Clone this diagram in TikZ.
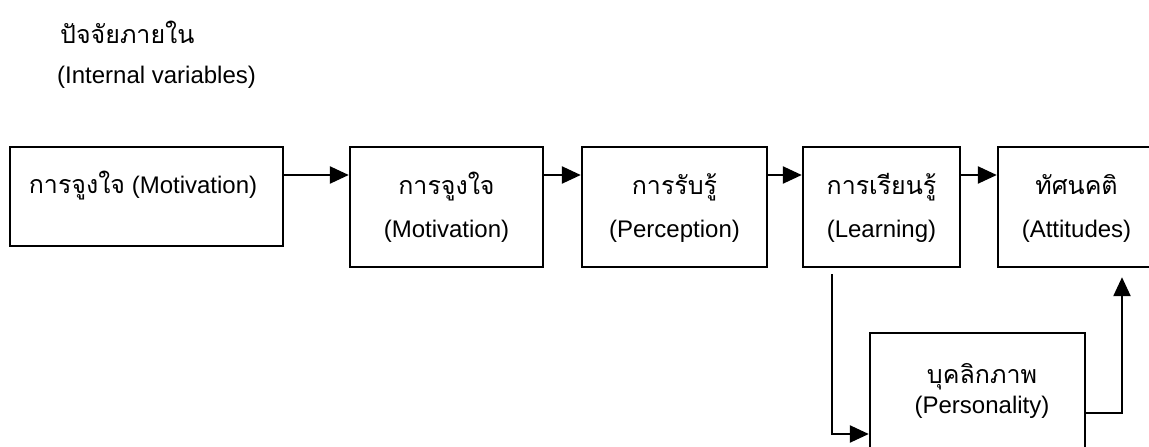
\documentclass[tikz,border=0pt]{standalone}
\usepackage{fontspec}
\setmainfont{Liberation Sans}
\newfontfamily\thai[Script=Thai]{Loma}
\usetikzlibrary{arrows.meta,calc}
\begin{document}
\begin{tikzpicture}[x=1pt,y=-1pt,
  box/.style={draw, line width=2.4pt, inner sep=0pt},
  arr/.style={line width=2.4pt, -{Triangle[length=19pt,width=17pt]}},
  lbl/.style={anchor=base, inner sep=0pt, font=\fontsize{24}{28}\selectfont},
  th/.style={anchor=base, inner sep=0pt, font=\thai\fontsize{25}{28}\selectfont}]
\useasboundingbox (0,0) rectangle (1149,447);
\clip (0,0) rectangle (1149,447);
% title
\node[th, anchor=base west] (title) at (60,43) {ปัจจัยภายใน};
\node[lbl, anchor=base west] (sub) at (57,83) {(Internal variables)};
% boxes
\node[box, minimum width=273pt, minimum height=99pt] (b1) at (146.5,196.5) {};
\node[box, minimum width=193pt, minimum height=120pt] (b2) at (446.5,207) {};
\node[box, minimum width=185pt, minimum height=120pt] (b3) at (674.5,207) {};
\node[box, minimum width=157pt, minimum height=120pt] (b4) at (881.5,207) {};
\node[box, minimum width=157pt, minimum height=120pt] (b5) at (1076.5,207) {};
\node[box, minimum width=215pt, minimum height=137pt] (b6) at (977.5,401.5) {};
% texts
\node[lbl] (t1) at (143,193) {{\thai\fontsize{25}{28}\selectfont การจูงใจ} (Motivation)};
\node[th] (t2a) at (446.5,194) {การจูงใจ};
\node[lbl] (t2b) at (446.5,237) {(Motivation)};
\node[th] (t3a) at (674.5,194) {การรับรู้};
\node[lbl] (t3b) at (674.5,237) {(Perception)};
\node[th] (t4a) at (881.5,194) {การเรียนรู้};
\node[lbl] (t4b) at (881.5,237) {(Learning)};
\node[th] (t5a) at (1076.5,194) {ทัศนคติ};
\node[lbl] (t5b) at (1076.5,237) {(Attitudes)};
\node[th] (t6a) at (982,383) {บุคลิกภาพ};
\node[lbl] (t6b) at (982,413) {(Personality)};
% connectors
\coordinate (ay) at (0,175);
\draw[arr] (b1.east |- ay) -- (b2.west |- ay);
\draw[arr] (b2.east |- ay) -- (b3.west |- ay);
\draw[arr] (b3.east |- ay) -- (b4.west |- ay);
\draw[arr] (b4.east |- ay) -- (b5.west |- ay);
\coordinate (lx) at (832,0);
\coordinate (py) at (0,434);
\draw[arr] ([yshift=-6pt]b4.south -| lx) -- (lx |- py) -- (b6.west |- py);
\coordinate (rx) at (1122,0);
\coordinate (ry) at (0,413);
\draw[arr, shorten >=9pt] (b6.east |- ry) -- (rx |- ry) -- (rx |- b5.south);
\end{tikzpicture}
\end{document}
